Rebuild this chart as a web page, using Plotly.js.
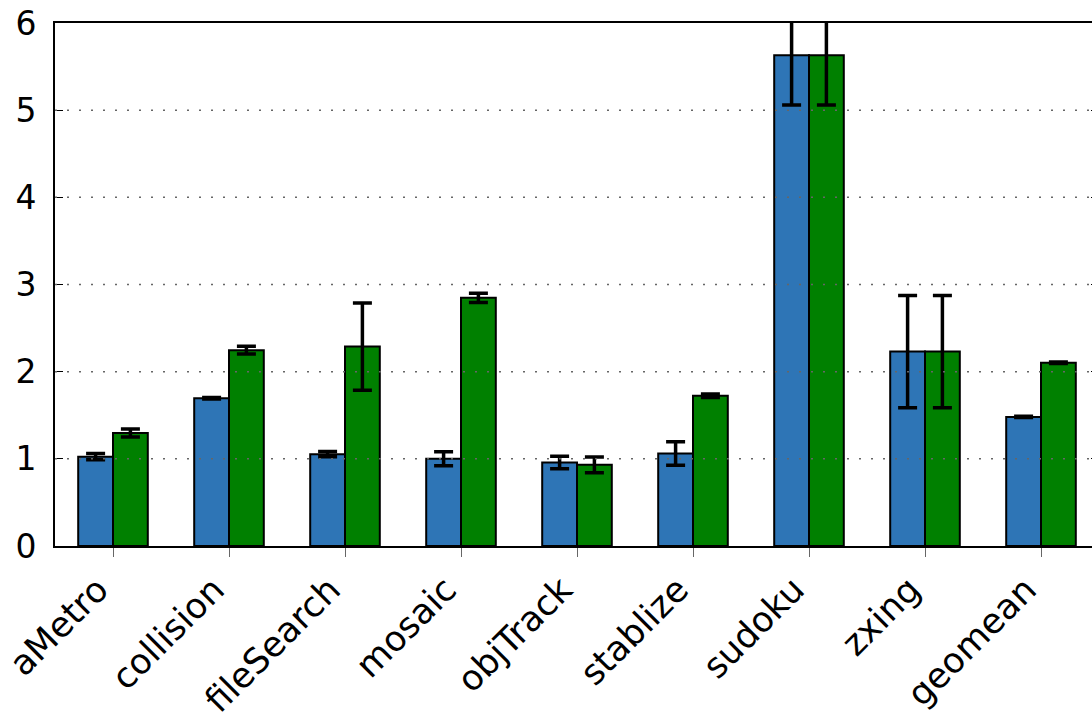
<!DOCTYPE html>
<html>
<head>
<meta charset="utf-8">
<script src="https://cdn.plot.ly/plotly-3.0.1.min.js"></script>
<style>
  html, body { margin: 0; padding: 0; overflow: hidden; background: #fff; }
  #chart { width: 1100px; height: 720px; }
</style>
</head>
<body>
<div id="chart"></div>
<script>
var categories = ["aMetro", "collision", "fileSearch", "mosaic", "objTrack", "stablize", "sudoku", "zxing", "geomean"];
var seriesA = [1.025, 1.695, 1.053, 1.00, 0.958, 1.061, 5.63, 2.23, 1.481];
var seriesAErr = [0.035, 0.01, 0.03, 0.08, 0.073, 0.136, 0.57, 0.645, 0.008];
var seriesB = [1.296, 2.247, 2.288, 2.847, 0.931, 1.724, 5.63, 2.23, 2.103];
var seriesBErr = [0.045, 0.045, 0.5, 0.054, 0.09, 0.02, 0.57, 0.645, 0.008];
var yTicks = [0, 1, 2, 3, 4, 5, 6];
var gridValues = [1, 2, 3, 4, 5];

var FONT = "DejaVu Sans, Liberation Sans, sans-serif";

function errStyle(arr) {
  return { type: "data", array: arr, symmetric: true, visible: true,
           color: "#000", thickness: 3.5, width: 9.5 };
}

var traces = [
  { type: "bar", name: "Series A", x: categories, y: seriesA,
    marker: { color: "#2e75b6", line: { color: "#000", width: 2 } },
    error_y: errStyle(seriesAErr) },
  { type: "bar", name: "Series B", x: categories, y: seriesB,
    marker: { color: "#008000", line: { color: "#000", width: 2 } },
    error_y: errStyle(seriesBErr) }
];

var shapes = gridValues.map(function (v) {
  return { type: "line", xref: "paper", yref: "y", x0: 0, x1: 1, y0: v, y1: v,
           layer: "above", line: { color: "#666", width: 1.5, dash: "2px,10px" } };
});

var layout = {
  width: 1100, height: 720,
  margin: { l: 55, r: 1, t: 23, b: 174, pad: 0 },
  paper_bgcolor: "#fff", plot_bgcolor: "#fff",
  barmode: "group", bargap: 0.4, bargroupgap: 0,
  showlegend: false,
  font: { family: FONT, color: "#000", size: 33 },
  xaxis: {
    type: "category", range: [-0.5, 8.5],
    showline: true, linecolor: "#000", linewidth: 2, mirror: true,
    ticks: "outside", ticklen: 9, tickwidth: 1, tickcolor: "#666",
    tickangle: -45, tickfont: { family: FONT, size: 35, color: "#000" },
    ticklabelshift: -15, ticklabelstandoff: -2,
    showgrid: false, zeroline: false
  },
  yaxis: {
    range: [0, 6], tickmode: "array", tickvals: yTicks, ticktext: yTicks.map(String),
    showline: true, linecolor: "#000", linewidth: 2, mirror: "ticks",
    ticks: "inside", ticklen: 8, tickwidth: 1, tickcolor: "#000",
    tickfont: { family: FONT, size: 33, color: "#000" },
    ticklabelstandoff: 10,
    showgrid: false, zeroline: false
  },
  shapes: shapes
};

Plotly.newPlot("chart", traces, layout, { displayModeBar: false, staticPlot: true });
</script>
</body>
</html>
